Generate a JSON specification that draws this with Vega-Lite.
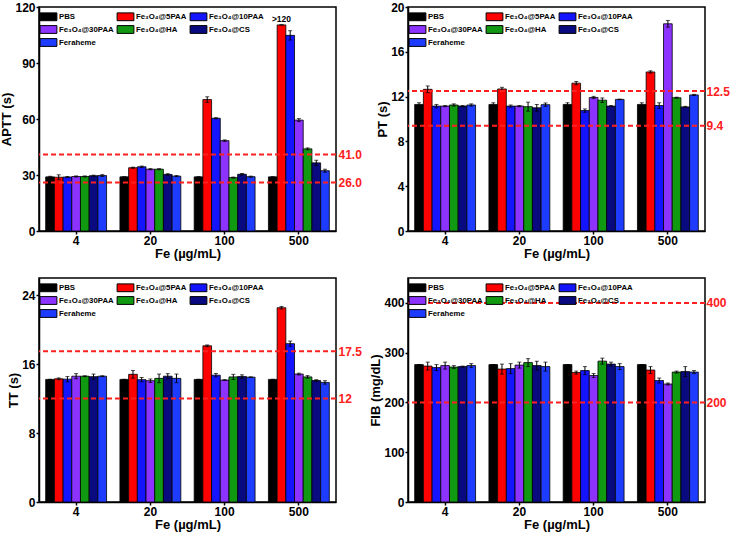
{
"$schema": "https://vega.github.io/schema/vega-lite/v6.json",
"padding": {"left": 0, "top": 0, "right": 0, "bottom": 0},
"columns": 2,
"spacing": {"row": 16, "column": 6},
"datasets": {
"bars": [
{"t":"APTT","fe":"4","s":"PBS","v":29,"e":0.3},
{"t":"APTT","fe":"4","s":"5PAA","v":28.8,"e":1.3},
{"t":"APTT","fe":"4","s":"10PAA","v":28.9,"e":0.3},
{"t":"APTT","fe":"4","s":"30PAA","v":29.2,"e":0.3},
{"t":"APTT","fe":"4","s":"HA","v":29.2,"e":0.3},
{"t":"APTT","fe":"4","s":"CS","v":29.6,"e":0.3},
{"t":"APTT","fe":"4","s":"Feraheme","v":29.7,"e":0.5},
{"t":"APTT","fe":"20","s":"PBS","v":29,"e":0},
{"t":"APTT","fe":"20","s":"5PAA","v":33.9,"e":0.3},
{"t":"APTT","fe":"20","s":"10PAA","v":34.4,"e":0.4},
{"t":"APTT","fe":"20","s":"30PAA","v":33.1,"e":0.3},
{"t":"APTT","fe":"20","s":"HA","v":33.1,"e":0.3},
{"t":"APTT","fe":"20","s":"CS","v":30.3,"e":0.4},
{"t":"APTT","fe":"20","s":"Feraheme","v":29.4,"e":0.3},
{"t":"APTT","fe":"100","s":"PBS","v":29,"e":0},
{"t":"APTT","fe":"100","s":"5PAA","v":70.4,"e":1.5},
{"t":"APTT","fe":"100","s":"10PAA","v":60.4,"e":0.3},
{"t":"APTT","fe":"100","s":"30PAA","v":48.4,"e":0.4},
{"t":"APTT","fe":"100","s":"HA","v":28.6,"e":0.3},
{"t":"APTT","fe":"100","s":"CS","v":30.4,"e":0.4},
{"t":"APTT","fe":"100","s":"Feraheme","v":29.1,"e":0.3},
{"t":"APTT","fe":"500","s":"PBS","v":29,"e":0},
{"t":"APTT","fe":"500","s":"5PAA","v":110.4,"e":0,"lab":">120"},
{"t":"APTT","fe":"500","s":"10PAA","v":104.8,"e":2.5},
{"t":"APTT","fe":"500","s":"30PAA","v":59.4,"e":0.8},
{"t":"APTT","fe":"500","s":"HA","v":44,"e":0.5},
{"t":"APTT","fe":"500","s":"CS","v":36.5,"e":1.4},
{"t":"APTT","fe":"500","s":"Feraheme","v":32.3,"e":0.8},
{"t":"PT","fe":"4","s":"PBS","v":11.3,"e":0.15},
{"t":"PT","fe":"4","s":"5PAA","v":12.65,"e":0.3},
{"t":"PT","fe":"4","s":"10PAA","v":11.15,"e":0.15},
{"t":"PT","fe":"4","s":"30PAA","v":11.15,"e":0.05},
{"t":"PT","fe":"4","s":"HA","v":11.25,"e":0.1},
{"t":"PT","fe":"4","s":"CS","v":11.15,"e":0.05},
{"t":"PT","fe":"4","s":"Feraheme","v":11.25,"e":0.1},
{"t":"PT","fe":"20","s":"PBS","v":11.3,"e":0.15},
{"t":"PT","fe":"20","s":"5PAA","v":12.68,"e":0.15},
{"t":"PT","fe":"20","s":"10PAA","v":11.15,"e":0.1},
{"t":"PT","fe":"20","s":"30PAA","v":11.15,"e":0.05},
{"t":"PT","fe":"20","s":"HA","v":11.1,"e":0.4},
{"t":"PT","fe":"20","s":"CS","v":11.0,"e":0.3},
{"t":"PT","fe":"20","s":"Feraheme","v":11.28,"e":0.15},
{"t":"PT","fe":"100","s":"PBS","v":11.3,"e":0.15},
{"t":"PT","fe":"100","s":"5PAA","v":13.2,"e":0.15},
{"t":"PT","fe":"100","s":"10PAA","v":10.75,"e":0.15},
{"t":"PT","fe":"100","s":"30PAA","v":11.92,"e":0.1},
{"t":"PT","fe":"100","s":"HA","v":11.68,"e":0.2},
{"t":"PT","fe":"100","s":"CS","v":11.15,"e":0.05},
{"t":"PT","fe":"100","s":"Feraheme","v":11.75,"e":0.02},
{"t":"PT","fe":"500","s":"PBS","v":11.3,"e":0.15},
{"t":"PT","fe":"500","s":"5PAA","v":14.2,"e":0.1},
{"t":"PT","fe":"500","s":"10PAA","v":11.2,"e":0.25},
{"t":"PT","fe":"500","s":"30PAA","v":18.5,"e":0.3},
{"t":"PT","fe":"500","s":"HA","v":11.9,"e":0.05},
{"t":"PT","fe":"500","s":"CS","v":11.08,"e":0.05},
{"t":"PT","fe":"500","s":"Feraheme","v":12.15,"e":0.05},
{"t":"TT","fe":"4","s":"PBS","v":14.23,"e":0},
{"t":"TT","fe":"4","s":"5PAA","v":14.3,"e":0.1},
{"t":"TT","fe":"4","s":"10PAA","v":14.26,"e":0.3},
{"t":"TT","fe":"4","s":"30PAA","v":14.6,"e":0.3},
{"t":"TT","fe":"4","s":"HA","v":14.6,"e":0.05},
{"t":"TT","fe":"4","s":"CS","v":14.55,"e":0.3},
{"t":"TT","fe":"4","s":"Feraheme","v":14.6,"e":0.05},
{"t":"TT","fe":"20","s":"PBS","v":14.23,"e":0},
{"t":"TT","fe":"20","s":"5PAA","v":14.82,"e":0.45},
{"t":"TT","fe":"20","s":"10PAA","v":14.2,"e":0.25},
{"t":"TT","fe":"20","s":"30PAA","v":14.08,"e":0.2},
{"t":"TT","fe":"20","s":"HA","v":14.35,"e":0.5},
{"t":"TT","fe":"20","s":"CS","v":14.6,"e":0.3},
{"t":"TT","fe":"20","s":"Feraheme","v":14.35,"e":0.5},
{"t":"TT","fe":"100","s":"PBS","v":14.23,"e":0},
{"t":"TT","fe":"100","s":"5PAA","v":18.13,"e":0.1},
{"t":"TT","fe":"100","s":"10PAA","v":14.72,"e":0.2},
{"t":"TT","fe":"100","s":"30PAA","v":14.15,"e":0.05},
{"t":"TT","fe":"100","s":"HA","v":14.52,"e":0.3},
{"t":"TT","fe":"100","s":"CS","v":14.56,"e":0.2},
{"t":"TT","fe":"100","s":"Feraheme","v":14.49,"e":0.03},
{"t":"TT","fe":"500","s":"PBS","v":14.23,"e":0},
{"t":"TT","fe":"500","s":"5PAA","v":22.55,"e":0.15},
{"t":"TT","fe":"500","s":"10PAA","v":18.38,"e":0.3},
{"t":"TT","fe":"500","s":"30PAA","v":14.85,"e":0.1},
{"t":"TT","fe":"500","s":"HA","v":14.52,"e":0.15},
{"t":"TT","fe":"500","s":"CS","v":14.1,"e":0.1},
{"t":"TT","fe":"500","s":"Feraheme","v":13.88,"e":0.2},
{"t":"FIB","fe":"4","s":"PBS","v":276,"e":0},
{"t":"FIB","fe":"4","s":"5PAA","v":273,"e":8},
{"t":"FIB","fe":"4","s":"10PAA","v":270,"e":6},
{"t":"FIB","fe":"4","s":"30PAA","v":274,"e":7},
{"t":"FIB","fe":"4","s":"HA","v":271,"e":3},
{"t":"FIB","fe":"4","s":"CS","v":272,"e":1},
{"t":"FIB","fe":"4","s":"Feraheme","v":274,"e":4},
{"t":"FIB","fe":"20","s":"PBS","v":276,"e":0},
{"t":"FIB","fe":"20","s":"5PAA","v":267,"e":10},
{"t":"FIB","fe":"20","s":"10PAA","v":268,"e":10},
{"t":"FIB","fe":"20","s":"30PAA","v":275,"e":6},
{"t":"FIB","fe":"20","s":"HA","v":280,"e":8},
{"t":"FIB","fe":"20","s":"CS","v":274,"e":9},
{"t":"FIB","fe":"20","s":"Feraheme","v":272,"e":9},
{"t":"FIB","fe":"100","s":"PBS","v":276,"e":0},
{"t":"FIB","fe":"100","s":"5PAA","v":260,"e":3},
{"t":"FIB","fe":"100","s":"10PAA","v":264,"e":8},
{"t":"FIB","fe":"100","s":"30PAA","v":254,"e":4},
{"t":"FIB","fe":"100","s":"HA","v":283,"e":6},
{"t":"FIB","fe":"100","s":"CS","v":277,"e":4},
{"t":"FIB","fe":"100","s":"Feraheme","v":272,"e":6},
{"t":"FIB","fe":"500","s":"PBS","v":276,"e":0},
{"t":"FIB","fe":"500","s":"5PAA","v":265,"e":7},
{"t":"FIB","fe":"500","s":"10PAA","v":244,"e":5},
{"t":"FIB","fe":"500","s":"30PAA","v":237,"e":2},
{"t":"FIB","fe":"500","s":"HA","v":261,"e":2},
{"t":"FIB","fe":"500","s":"CS","v":262,"e":10},
{"t":"FIB","fe":"500","s":"Feraheme","v":261,"e":3}
]
},
"concat": [
{
"width": 297, "height": 224,
"layer": [
{"data": {"name": "bars"}, "transform": [{"filter": "datum.t == 'APTT'"}],
"encoding": {
"x": {"field": "fe", "type": "nominal", "sort": ["4","20","100","500"], "scale": {"paddingInner": 0.18, "paddingOuter": 0.09}, "axis": {"title": "Fe (µg/mL)", "labelAngle": 0}},
"xOffset": {"field": "s", "type": "nominal", "sort": ["PBS","5PAA","10PAA","30PAA","HA","CS","Feraheme"], "scale": {"paddingInner": 0, "paddingOuter": 0}}
},
"layer": [
{"mark": {"type": "bar", "stroke": "black", "strokeWidth": 0.8},
"encoding": {
"y": {"field": "v", "type": "quantitative", "title": "APTT (s)", "scale": {"domain": [0,120]}, "axis": {"values": [0,30,60,90,120]}},
"color": {"field": "s", "type": "nominal", "scale": {"domain": ["PBS","5PAA","10PAA","30PAA","HA","CS","Feraheme"], "range": ["#000000","#ff0000","#1414ff","#8c33ff","#119911","#0a0a80","#1e3cff"]}, "legend": {"labelExpr": "datum.label == 'PBS' || datum.label == 'Feraheme' ? datum.label : 'Fe₃O₄@' + datum.label"}}
}},
{"mark": {"type": "errorbar", "color": "black", "thickness": 1, "ticks": {"size": 4, "color": "black"}},
"encoding": {"y": {"field": "v", "type": "quantitative", "title": "APTT (s)"}, "yError": {"field": "e"}}},
{"transform": [{"filter": "datum.lab"}],
"mark": {"type": "text", "dy": -6, "fontSize": 8.5, "fontWeight": "bold", "color": "black"},
"encoding": {"y": {"field": "v", "type": "quantitative", "title": "APTT (s)"}, "text": {"field": "lab"}}}
]},
{"data": {"values": [{"r": 26},{"r": 41}]},
"mark": {"type": "rule", "color": "#ff2020", "strokeDash": [5,3], "strokeWidth": 2},
"encoding": {"y": {"field": "r", "type": "quantitative", "axis": {"orient": "right", "values": [26,41], "format": ".1f", "labelColor": "#ff2020", "ticks": false, "domain": false, "title": null, "labelFontSize": 12, "labelPadding": 2}}}}
],
"resolve": {"axis": {"y": "independent"}}
},
{
"width": 297, "height": 224,
"layer": [
{"data": {"name": "bars"}, "transform": [{"filter": "datum.t == 'PT'"}],
"encoding": {
"x": {"field": "fe", "type": "nominal", "sort": ["4","20","100","500"], "scale": {"paddingInner": 0.18, "paddingOuter": 0.09}, "axis": {"title": "Fe (µg/mL)", "labelAngle": 0}},
"xOffset": {"field": "s", "type": "nominal", "sort": ["PBS","5PAA","10PAA","30PAA","HA","CS","Feraheme"], "scale": {"paddingInner": 0, "paddingOuter": 0}}
},
"layer": [
{"mark": {"type": "bar", "stroke": "black", "strokeWidth": 0.8},
"encoding": {
"y": {"field": "v", "type": "quantitative", "title": "PT (s)", "scale": {"domain": [0,20]}, "axis": {"values": [0,4,8,12,16,20]}},
"color": {"field": "s", "type": "nominal", "scale": {"domain": ["PBS","5PAA","10PAA","30PAA","HA","CS","Feraheme"], "range": ["#000000","#ff0000","#1414ff","#8c33ff","#119911","#0a0a80","#1e3cff"]}, "legend": {"labelExpr": "datum.label == 'PBS' || datum.label == 'Feraheme' ? datum.label : 'Fe₃O₄@' + datum.label"}}
}},
{"mark": {"type": "errorbar", "color": "black", "thickness": 1, "ticks": {"size": 4, "color": "black"}},
"encoding": {"y": {"field": "v", "type": "quantitative", "title": "PT (s)"}, "yError": {"field": "e"}}}
]},
{"data": {"values": [{"r": 9.4},{"r": 12.5}]},
"mark": {"type": "rule", "color": "#ff2020", "strokeDash": [5,3], "strokeWidth": 2},
"encoding": {"y": {"field": "r", "type": "quantitative", "axis": {"orient": "right", "values": [9.4,12.5], "format": ".1f", "labelColor": "#ff2020", "ticks": false, "domain": false, "title": null, "labelFontSize": 12, "labelPadding": 1}}}}
],
"resolve": {"axis": {"y": "independent"}}
},
{
"width": 297, "height": 224,
"layer": [
{"data": {"name": "bars"}, "transform": [{"filter": "datum.t == 'TT'"}],
"encoding": {
"x": {"field": "fe", "type": "nominal", "sort": ["4","20","100","500"], "scale": {"paddingInner": 0.18, "paddingOuter": 0.09}, "axis": {"title": "Fe (µg/mL)", "labelAngle": 0}},
"xOffset": {"field": "s", "type": "nominal", "sort": ["PBS","5PAA","10PAA","30PAA","HA","CS","Feraheme"], "scale": {"paddingInner": 0, "paddingOuter": 0}}
},
"layer": [
{"mark": {"type": "bar", "stroke": "black", "strokeWidth": 0.8},
"encoding": {
"y": {"field": "v", "type": "quantitative", "title": "TT (s)", "scale": {"domain": [0,25]}, "axis": {"values": [0,4,8,12,16,20,24]}},
"color": {"field": "s", "type": "nominal", "scale": {"domain": ["PBS","5PAA","10PAA","30PAA","HA","CS","Feraheme"], "range": ["#000000","#ff0000","#1414ff","#8c33ff","#119911","#0a0a80","#1e3cff"]}, "legend": {"labelExpr": "datum.label == 'PBS' || datum.label == 'Feraheme' ? datum.label : 'Fe₃O₄@' + datum.label"}}
}},
{"mark": {"type": "errorbar", "color": "black", "thickness": 1, "ticks": {"size": 4, "color": "black"}},
"encoding": {"y": {"field": "v", "type": "quantitative", "title": "TT (s)"}, "yError": {"field": "e"}}}
]},
{"data": {"values": [{"r": 12},{"r": 17.5}]},
"mark": {"type": "rule", "color": "#ff2020", "strokeDash": [5,3], "strokeWidth": 2},
"encoding": {"y": {"field": "r", "type": "quantitative", "axis": {"orient": "right", "values": [12,17.5], "labelExpr": "datum.value == 12 ? '12' : format(datum.value, '.1f')", "labelColor": "#ff2020", "ticks": false, "domain": false, "title": null, "labelFontSize": 12, "labelPadding": 2}}}}
],
"resolve": {"axis": {"y": "independent"}}
},
{
"width": 297, "height": 224,
"layer": [
{"data": {"name": "bars"}, "transform": [{"filter": "datum.t == 'FIB'"}],
"encoding": {
"x": {"field": "fe", "type": "nominal", "sort": ["4","20","100","500"], "scale": {"paddingInner": 0.18, "paddingOuter": 0.09}, "axis": {"title": "Fe (µg/mL)", "labelAngle": 0}},
"xOffset": {"field": "s", "type": "nominal", "sort": ["PBS","5PAA","10PAA","30PAA","HA","CS","Feraheme"], "scale": {"paddingInner": 0, "paddingOuter": 0}}
},
"layer": [
{"mark": {"type": "bar", "stroke": "black", "strokeWidth": 0.8},
"encoding": {
"y": {"field": "v", "type": "quantitative", "title": "FIB (mg/dL)", "scale": {"domain": [0,430]}, "axis": {"values": [0,50,100,150,200,250,300,350,400]}},
"color": {"field": "s", "type": "nominal", "scale": {"domain": ["PBS","5PAA","10PAA","30PAA","HA","CS","Feraheme"], "range": ["#000000","#ff0000","#1414ff","#8c33ff","#119911","#0a0a80","#1e3cff"]}, "legend": {"labelExpr": "datum.label == 'PBS' || datum.label == 'Feraheme' ? datum.label : 'Fe₃O₄@' + datum.label"}}
}},
{"mark": {"type": "errorbar", "color": "black", "thickness": 1, "ticks": {"size": 4, "color": "black"}},
"encoding": {"y": {"field": "v", "type": "quantitative", "title": "FIB (mg/dL)"}, "yError": {"field": "e"}}}
]},
{"data": {"values": [{"r": 200},{"r": 400}]},
"mark": {"type": "rule", "color": "#ff2020", "strokeDash": [5,3], "strokeWidth": 2},
"encoding": {"y": {"field": "r", "type": "quantitative", "axis": {"orient": "right", "values": [200,400], "format": "d", "labelColor": "#ff2020", "ticks": false, "domain": false, "title": null, "labelFontSize": 12, "labelPadding": 1}}}}
],
"resolve": {"axis": {"y": "independent"}}
}
],
"resolve": {"scale": {"color": "independent"}, "legend": {"color": "independent"}},
"config": {
"font": "Liberation Sans",
"view": {"stroke": "black", "strokeWidth": 1.5},
"axis": {"grid": false, "labelFontSize": 12, "labelFontWeight": "bold", "labelColor": "black", "titleFontSize": 13, "titleFontWeight": "bold", "titleColor": "black", "domainColor": "black", "domainWidth": 1.5, "tickColor": "black", "tickWidth": 1.5, "tickSize": 3, "labelPadding": 1, "titlePadding": 1},
"legend": {"orient": "top-left", "direction": "horizontal", "columns": 3, "title": null, "offset": 3, "padding": 0, "rowPadding": 0, "columnPadding": 1, "symbolType": "M-1.4,-0.65H1.4V0.65H-1.4Z", "symbolSize": 144, "symbolStrokeColor": "black", "symbolStrokeWidth": 1, "symbolOpacity": 1, "labelFontSize": 7.8, "labelFontWeight": "bold", "labelColor": "black", "labelOffset": 4}
}
}
